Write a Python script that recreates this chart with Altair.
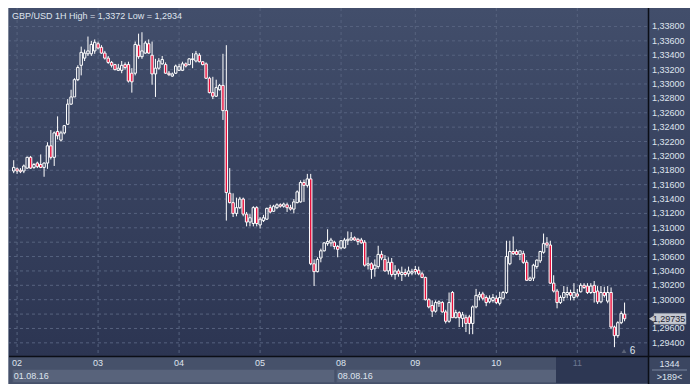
import altair as alt
import pandas as pd

# ---- data ----
opens = [1.3179,1.3182,1.3180,1.3179,1.3183,1.3198,1.3184,1.3190,1.3188,1.3184,
         1.3190,1.3214,1.3198,1.3234,1.3222,1.3232,1.3244,1.3272,1.3282,1.3306,
         1.3326,1.3336,1.3342,1.3342,1.3346,1.3356,1.3351,1.3343,1.3336,1.3330,
         1.3327,1.3319,1.3319,1.3327,1.3327,1.3315,1.3315,1.3354,1.3338,1.3343,
         1.3356,1.3340,1.3314,1.3322,1.3328,1.3327,1.3315,1.3311,1.3315,1.3319,
         1.3319,1.3328,1.3327,1.3334,1.3332,1.3340,1.3331,1.3328,1.3308,1.3288,
         1.3283,1.3292,1.3298,1.3263,1.3148,1.3135,1.3120,1.3128,1.3140,1.3119,
         1.3108,1.3106,1.3128,1.3104,1.3110,1.3112,1.3128,1.3123,1.3128,1.3132,
         1.3130,1.3132,1.3128,1.3126,1.3135,1.3136,1.3163,1.3159,1.3168,1.3050,
         1.3039,1.3058,1.3068,1.3078,1.3079,1.3080,1.3074,1.3072,1.3072,1.3082,
         1.3083,1.3086,1.3084,1.3083,1.3080,1.3048,1.3050,1.3043,1.3046,1.3063,
         1.3056,1.3040,1.3052,1.3035,1.3040,1.3035,1.3038,1.3036,1.3037,1.3042,
         1.3041,1.3036,1.3031,1.3000,1.2992,1.2984,1.2995,1.2996,1.2983,1.2970,
         1.3010,1.2975,1.2982,1.2974,1.2975,1.2976,1.2967,1.2990,1.3004,1.3008,
         1.3003,1.2997,1.2999,1.3002,1.2995,1.3002,1.3010,1.3050,1.3067,1.3067,
         1.3063,1.3064,1.3052,1.3027,1.3030,1.3046,1.3054,1.3066,1.3079,1.3076,
         1.3023,1.3012,1.2996,1.3003,1.3007,1.3010,1.3003,1.3008,1.3011,1.3020,
         1.3019,1.3010,1.3020,1.3012,1.2997,1.3010,1.2998,1.3010,1.2962,1.2950,
         1.2968,1.2980]
highs = [1.3194,1.3184,1.3183,1.3188,1.3199,1.3200,1.3190,1.3192,1.3202,1.3191,
         1.3219,1.3236,1.3234,1.3255,1.3235,1.3243,1.3279,1.3292,1.3308,1.3326,
         1.3352,1.3348,1.3366,1.3360,1.3362,1.3359,1.3354,1.3346,1.3339,1.3332,
         1.3328,1.3328,1.3332,1.3330,1.3331,1.3322,1.3359,1.3370,1.3372,1.3360,
         1.3362,1.3359,1.3335,1.3336,1.3339,1.3330,1.3318,1.3316,1.3327,1.3328,
         1.3331,1.3330,1.3336,1.3343,1.3346,1.3343,1.3332,1.3330,1.3310,1.3310,
         1.3306,1.3300,1.3342,1.3354,1.3183,1.3148,1.3142,1.3143,1.3142,1.3122,
         1.3119,1.3130,1.3130,1.3115,1.3118,1.3128,1.3132,1.3132,1.3134,1.3134,
         1.3135,1.3135,1.3132,1.3140,1.3152,1.3166,1.3167,1.3175,1.3175,1.3056,
         1.3059,1.3071,1.3080,1.3098,1.3086,1.3082,1.3076,1.3083,1.3086,1.3095,
         1.3094,1.3088,1.3086,1.3086,1.3083,1.3059,1.3052,1.3056,1.3075,1.3068,
         1.3062,1.3059,1.3058,1.3048,1.3043,1.3046,1.3043,1.3046,1.3043,1.3047,
         1.3046,1.3039,1.3032,1.3002,1.2999,1.2999,1.2999,1.2998,1.2986,1.3010,
         1.3012,1.2986,1.2984,1.2983,1.2979,1.2979,1.2992,1.3015,1.3011,1.3011,
         1.3006,1.3006,1.3008,1.3006,1.3011,1.3012,1.3082,1.3082,1.3088,1.3070,
         1.3068,1.3068,1.3055,1.3032,1.3050,1.3056,1.3068,1.3092,1.3087,1.3082,
         1.3034,1.3015,1.3006,1.3019,1.3018,1.3014,1.3023,1.3015,1.3023,1.3023,
         1.3023,1.3023,1.3026,1.3019,1.3019,1.3018,1.3019,1.3017,1.2964,1.2970,
         1.2984,1.2996]
lows = [1.3176,1.3175,1.3176,1.3176,1.3182,1.3182,1.3182,1.3183,1.3183,1.3171,
        1.3182,1.3195,1.3186,1.3223,1.3220,1.3230,1.3243,1.3271,1.3282,1.3304,
        1.3312,1.3332,1.3339,1.3339,1.3342,1.3348,1.3342,1.3334,1.3328,1.3323,
        1.3319,1.3318,1.3315,1.3320,1.3302,1.3288,1.3312,1.3335,1.3335,1.3342,
        1.3342,1.3299,1.3282,1.3320,1.3327,1.3314,1.3311,1.3310,1.3314,1.3318,
        1.3318,1.3323,1.3326,1.3322,1.3330,1.3330,1.3326,1.3307,1.3287,1.3279,
        1.3282,1.3291,1.3250,1.3110,1.3134,1.3115,1.3116,1.3126,1.3116,1.3102,
        1.3102,1.3102,1.3102,1.3099,1.3108,1.3111,1.3120,1.3122,1.3126,1.3128,
        1.3128,1.3122,1.3124,1.3120,1.3134,1.3135,1.3136,1.3156,1.3048,1.3019,
        1.3038,1.3052,1.3067,1.3075,1.3074,1.3070,1.3059,1.3070,1.3071,1.3076,
        1.3082,1.3082,1.3076,1.3078,1.3046,1.3042,1.3029,1.3032,1.3043,1.3055,
        1.3039,1.3035,1.3032,1.3028,1.3032,1.3026,1.3032,1.3032,1.3034,1.3035,
        1.3034,1.3030,1.2999,1.2988,1.2976,1.2982,1.2990,1.2982,1.2967,1.2968,
        1.2975,1.2974,1.2962,1.2962,1.2955,1.2952,1.2952,1.2988,1.2999,1.2999,
        1.2991,1.2995,1.2996,1.2994,1.2992,1.3000,1.3008,1.3048,1.3062,1.3062,
        1.3055,1.3050,1.3026,1.3026,1.3026,1.3043,1.3051,1.3064,1.3072,1.3022,
        1.3010,1.2988,1.2994,1.2998,1.3002,1.2999,1.2999,1.3003,1.3010,1.3015,
        1.3008,1.3008,1.2996,1.2994,1.2995,1.3003,1.2995,1.2959,1.2934,1.2947,
        1.2966,1.2970]
closes = [1.3184,1.3179,1.3178,1.3186,1.3198,1.3183,1.3188,1.3185,1.3184,1.3190,
          1.3214,1.3198,1.3232,1.3228,1.3232,1.3242,1.3272,1.3282,1.3306,1.3323,
          1.3344,1.3343,1.3346,1.3355,1.3358,1.3350,1.3343,1.3336,1.3330,1.3326,
          1.3320,1.3322,1.3326,1.3323,1.3304,1.3303,1.3355,1.3338,1.3346,1.3357,
          1.3343,1.3314,1.3322,1.3332,1.3334,1.3315,1.3313,1.3314,1.3325,1.3324,
          1.3328,1.3325,1.3335,1.3335,1.3342,1.3331,1.3327,1.3308,1.3288,1.3283,
          1.3295,1.3298,1.3263,1.3149,1.3135,1.3120,1.3128,1.3140,1.3119,1.3108,
          1.3114,1.3128,1.3106,1.3112,1.3114,1.3127,1.3122,1.3130,1.3132,1.3130,
          1.3133,1.3128,1.3126,1.3136,1.3150,1.3163,1.3159,1.3168,1.3050,1.3039,
          1.3056,1.3068,1.3079,1.3081,1.3083,1.3074,1.3070,1.3082,1.3083,1.3084,
          1.3086,1.3083,1.3081,1.3079,1.3048,1.3050,1.3042,1.3048,1.3063,1.3058,
          1.3040,1.3052,1.3035,1.3040,1.3036,1.3038,1.3035,1.3040,1.3039,1.3039,
          1.3036,1.3031,1.3000,1.2990,1.2984,1.2996,1.2997,1.2983,1.2970,1.2996,
          1.2975,1.2982,1.2975,1.2979,1.2967,1.2967,1.2990,1.3006,1.3007,1.3002,
          1.2996,1.3002,1.3003,1.2996,1.3003,1.3010,1.3060,1.3067,1.3064,1.3063,
          1.3068,1.3052,1.3027,1.3030,1.3048,1.3055,1.3067,1.3078,1.3076,1.3023,
          1.3012,1.2996,1.3003,1.3010,1.3010,1.3006,1.3010,1.3005,1.3020,1.3017,
          1.3010,1.3019,1.3010,1.2997,1.3010,1.3006,1.3010,1.2962,1.2950,1.2968,
          1.2981,1.29735]

day_labels = ["02", "03", "04", "05", "08", "09", "10", "11"]
day_index = [1, 25, 49, 73, 97, 119, 143, 167]
week_labels = ["01.08.16", "08.08.16"]
week_index = [1, 97]
grid_prices = [1.294, 1.296, 1.298, 1.300, 1.302, 1.304, 1.306, 1.308, 1.310,
               1.312, 1.314, 1.316, 1.318, 1.320, 1.322, 1.324, 1.326, 1.328,
               1.330, 1.332, 1.334, 1.336, 1.338]
last_price = 1.29735
last_label = "1,29735"
title_text = "GBP/USD 1H High = 1,3372 Low = 1,2934"
bars_total = "1344"
bars_visible = ">189<"
marker_count = "6"

# ---- layout ----
W, H = 640, 348          # plot area
RW, BH = 42, 28          # right axis column, bottom strip
TW, TH = W + RW, H + BH
FONT = "Liberation Sans"
TXT = "#dfe4ee"

xs = alt.Scale(domain=[-1.69, 187.94], nice=False, zero=False)
ys = alt.Scale(domain=[1.29217, 1.34057], nice=False, zero=False)

df = pd.DataFrame({"i": list(range(len(opens))), "open": opens, "high": highs,
                   "low": lows, "close": closes})
df["top"] = df[["open", "close"]].max(axis=1)
df["bot"] = df[["open", "close"]].min(axis=1)
df["x1"] = df["i"] - 0.36
df["x2"] = df["i"] + 0.36
df["down"] = df["close"] < df["open"]

one = pd.DataFrame({"k": [0]})

bg = alt.Chart(one).mark_rect(
    fill=alt.LinearGradient(gradient="linear", x1=0, x2=0, y1=0, y2=1,
                            stops=[alt.GradientStop(color="#424e6b", offset=0),
                                   alt.GradientStop(color="#2c3552", offset=1)])
).encode(x=alt.value(0), x2=alt.value(TW), y=alt.value(0), y2=alt.value(H))

strip = alt.Chart(one).mark_rect(color="#46516a").encode(
    x=alt.value(0), x2=alt.value(TW), y=alt.value(H), y2=alt.value(TH))

wk = pd.DataFrame({"label": week_labels, "start": [w - 1.3 for w in week_index],
                   "end": [w - 1.9 for w in week_index[1:]] + [187.94]})
week_box = alt.Chart(wk).mark_rect(color="#58637b", stroke="#4a556e", strokeWidth=1).encode(
    x=alt.X("start:Q", scale=xs, axis=None), x2="end:Q",
    y=alt.value(H + 13.5), y2=alt.value(TH - 1.5))
week_text = alt.Chart(wk).mark_text(align="left", baseline="middle", dx=1,
                                     font=FONT, fontSize=9, color=TXT).encode(
    x=alt.X("start:Q", scale=xs, axis=None), y=alt.value(H + 20), text="label:N")

nav = alt.Chart(one).mark_rect(color="#2d3753").encode(
    x=alt.value(548), x2=alt.value(W), y=alt.value(H + 1), y2=alt.value(TH - 1))

corner = alt.Chart(one).mark_rect(color="#3b4661").encode(
    x=alt.value(W), x2=alt.value(TW), y=alt.value(H), y2=alt.value(TH))

gp = pd.DataFrame({"p": grid_prices})
gp["lab"] = [f"{p:.5f}".replace(".", ",") for p in grid_prices]
hgrid = alt.Chart(gp).mark_rule(color="#56627f", strokeDash=[3, 3], strokeWidth=1).encode(
    y=alt.Y("p:Q", scale=ys, axis=None), x=alt.value(0), x2=alt.value(W))
ylabels = alt.Chart(gp[gp["p"] != 1.298]).mark_text(
    align="left", baseline="middle", font=FONT, fontSize=9, color=TXT).encode(
    y=alt.Y("p:Q", scale=ys, axis=None), x=alt.value(W + 4), text="lab:N")

dg = pd.DataFrame({"d": day_index, "lab": day_labels})
dg["dim"] = dg["d"] >= 160
vgrid = alt.Chart(dg).mark_rule(color="#56627f", strokeDash=[3, 3], strokeWidth=1).encode(
    x=alt.X("d:Q", scale=xs, axis=None), y=alt.value(0), y2=alt.value(H))
xlabels = alt.Chart(dg).mark_text(
    align="center", baseline="middle", font=FONT, fontSize=9).encode(
    x=alt.X("d:Q", scale=xs, axis=None), y=alt.value(H + 7), text="lab:N",
    color=alt.condition("datum.dim", alt.value("#6b7690"), alt.value(TXT)))

wick_up = alt.Chart(df).mark_rule(color="white", strokeWidth=1).encode(
    x=alt.X("i:Q", scale=xs, axis=None),
    y=alt.Y("high:Q", scale=ys, axis=None), y2="top:Q")
wick_dn = alt.Chart(df).mark_rule(color="white", strokeWidth=1).encode(
    x=alt.X("i:Q", scale=xs, axis=None),
    y=alt.Y("bot:Q", scale=ys, axis=None), y2="low:Q")
bodies = alt.Chart(df).mark_rect(stroke="white", strokeWidth=1).encode(
    x=alt.X("x1:Q", scale=xs, axis=None), x2="x2:Q",
    y=alt.Y("open:Q", scale=ys, axis=None), y2="close:Q",
    fill=alt.condition("datum.down", alt.value("#e8103c"), alt.value("transparent")))

title = alt.Chart(pd.DataFrame({"t": [title_text]})).mark_text(
    align="left", baseline="middle", font=FONT, fontSize=9, color=TXT).encode(
    x=alt.value(4), y=alt.value(8), text="t:N")

lp = pd.DataFrame({"p": [last_price], "hi": [last_price + 0.00075],
                   "lo": [last_price - 0.00075], "t": [last_label]})
pbox = alt.Chart(lp).mark_rect(color="#c5c9d1", stroke="#9aa0ab", strokeWidth=0.5).encode(
    x=alt.value(W + 6), x2=alt.value(TW - 4),
    y=alt.Y("hi:Q", scale=ys, axis=None), y2="lo:Q")
parrow = alt.Chart(lp).mark_point(shape="triangle-left", filled=True, color="#c5c9d1",
                                  size=40, opacity=1).encode(
    x=alt.value(W + 3.5), y=alt.Y("p:Q", scale=ys, axis=None))
ptext = alt.Chart(lp).mark_text(align="center", baseline="middle", font=FONT, fontSize=9,
                                color="#1d2330").encode(
    x=alt.value(W + 21), y=alt.Y("p:Q", scale=ys, axis=None), text="t:N")

cnt_tri = alt.Chart(one).mark_point(shape="triangle-up", filled=True, color="#5c6477",
                                    size=22, opacity=1).encode(
    x=alt.value(616), y=alt.value(H - 5))
cnt_txt = alt.Chart(pd.DataFrame({"t": [marker_count]})).mark_text(
    align="center", baseline="middle", font=FONT, fontSize=10, color=TXT).encode(
    x=alt.value(624.5), y=alt.value(H - 5), text="t:N")

foot1 = alt.Chart(pd.DataFrame({"t": [bars_total]})).mark_text(
    align="center", baseline="middle", font=FONT, fontSize=9, color=TXT).encode(
    x=alt.value(W + 21.5), y=alt.value(H + 7.5), text="t:N")
foot2 = alt.Chart(pd.DataFrame({"t": [bars_visible]})).mark_text(
    align="center", baseline="middle", font=FONT, fontSize=9, color=TXT).encode(
    x=alt.value(W + 21.5), y=alt.value(H + 20.5), text="t:N")
foot_line = alt.Chart(one).mark_rule(color="#7a86a0", strokeWidth=1).encode(
    x=alt.value(W + 4), x2=alt.value(TW - 3), y=alt.value(H + 14))

hline = alt.Chart(one).mark_rule(color="#0b0e16", strokeWidth=1.5).encode(
    x=alt.value(0), x2=alt.value(TW), y=alt.value(H + 0.5))
vline = alt.Chart(one).mark_rule(color="#0b0e16", strokeWidth=1.5).encode(
    x=alt.value(W + 0.5), y=alt.value(0), y2=alt.value(TH))
lline = alt.Chart(one).mark_rule(color="#7d8699", strokeWidth=1).encode(
    x=alt.value(0.5), y=alt.value(0), y2=alt.value(TH))

chart = alt.layer(
    bg, strip, week_box, nav, corner, week_text, hgrid, vgrid, ylabels, xlabels,
    wick_up, wick_dn, bodies, title, pbox, parrow, ptext, cnt_tri, cnt_txt,
    foot1, foot2, foot_line, hline, vline, lline
).properties(
    width=W, height=H,
    autosize=alt.AutoSizeParams(type="none"),
    padding={"left": 0, "top": 0, "right": RW, "bottom": BH},
    background="#3b4662",
).configure_view(stroke=None)

chart.save("out.html", embed_options={"renderer": "svg", "actions": False})
